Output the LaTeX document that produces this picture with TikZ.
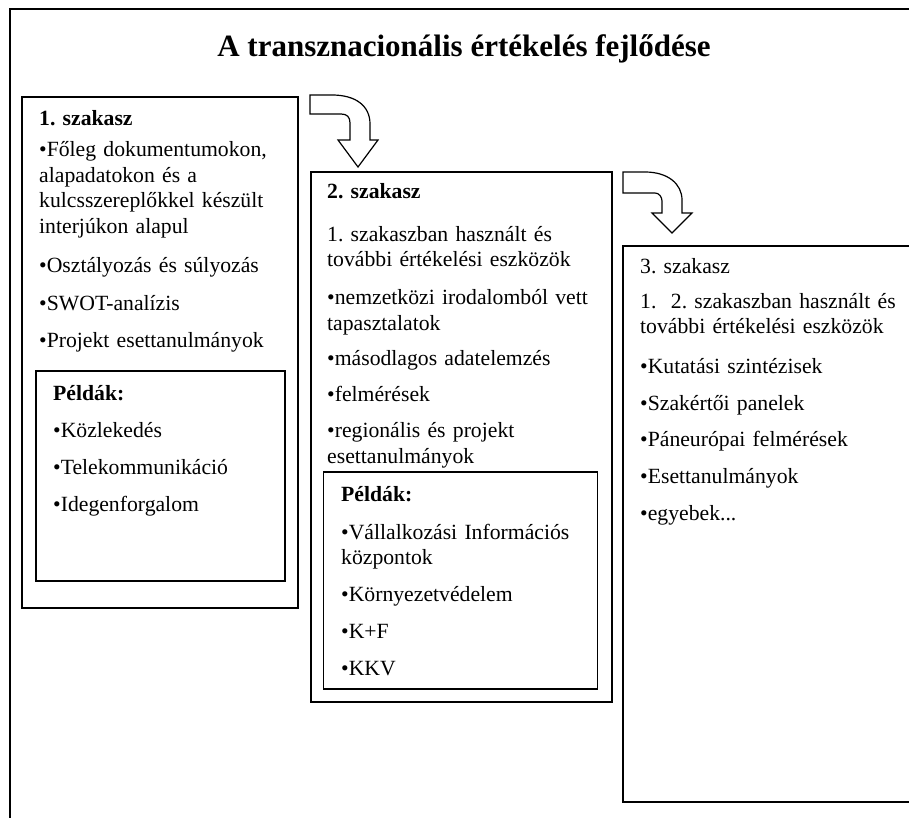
\documentclass[tikz,border=0pt]{standalone}
\usepackage{fontspec}
\setmainfont{Liberation Serif}
\frenchspacing
\newcommand{\bodyfont}{\fontsize{21.7}{25.5}\selectfont\frenchspacing}
\newcommand{\titlefont}{\fontsize{31}{36}\selectfont\bfseries}
\begin{document}
\begin{tikzpicture}[x=1pt,y=-1pt,
  frame/.style={draw=black,line width=1.6pt},
  box/.style={draw=black,line width=1.6pt,anchor=north west,inner sep=0pt,outer sep=0pt},
  txt/.style={anchor=base west,inner sep=0pt,align=left,font=\bodyfont},
  bendarrow/.style={draw=black,line width=1.2pt,fill=white,line join=miter}]
\clip (0,0) rectangle (909,818);
\fill[white] (0,0) rectangle (909,818);
% outer frame (open on right and bottom)
\draw[frame] (10,830) -- (10,9) -- (920,9);
% title
\node[anchor=base,inner sep=0pt,font=\titlefont] (title) at (464,57) {A transznacionális értékelés fejlődése};
% boxes
\node[box,minimum width=276,minimum height=511] (b1) at (22,97) {};
\node[box,minimum width=249,minimum height=210] (b1i) at (36,371) {};
\node[box,minimum width=301,minimum height=530] (b2) at (311,172) {};
\node[box,minimum width=274,minimum height=217] (b2i) at (323.5,472) {};
\node[box,minimum width=320,minimum height=556] (b3) at (623,246) {};
% curved block arrows
\draw[bendarrow] (310,95) -- (332,95) .. controls (356,95) and (370,106) .. (370,124)
  -- (370,140) -- (378,140) -- (358,167) -- (338,140) -- (350,140) -- (350,123)
  .. controls (350,117) and (347,114) .. (341,114) -- (310,114) -- cycle;
\draw[bendarrow] (623,172) -- (645,172) .. controls (668,172) and (682,184) .. (682,200)
  -- (682,213) -- (692,213) -- (672,233) -- (652,213) -- (662,213) -- (662,201)
  .. controls (662,197) and (659,193) .. (655,193) -- (623,193) -- cycle;
% box 1 text
\node[txt,text width=250] (t1) at (39,126) {\textbf{1. szakasz}\\[5.5pt]
  •Főleg dokumentumokon,\\ alapadatokon és a\\ kulcsszereplőkkel készült\\ interjúkon alapul\\[14pt]
  •Osztályozás és súlyozás\\[12pt] •SWOT-analízis\\[12pt] •Projekt esettanulmányok};
\node[txt,text width=225] (t1i) at (53,400) {\textbf{Példák:}\\[11.5pt]
  •Közlekedés\\[11.5pt] •Telekommunikáció\\[11.5pt] •Idegenforgalom};
% box 2 text
\node[txt,text width=275] (t2) at (327,199) {\textbf{2. szakasz}\\[17pt]
  1. szakaszban használt és\\ további értékelési eszközök\\[12pt]
  •nemzetközi irodalomból vett\\ tapasztalatok\\[10pt]
  •másodlagos adatelemzés\\[10.5pt] •felmérések\\[10.5pt]
  •regionális és projekt\\ esettanulmányok};
\node[txt,text width=250] (t2i) at (341,501.7) {\textbf{Példák:}\\[12pt]
  •Vállalkozási Információs\\ központok\\[11.5pt] •Környezetvédelem\\[11.5pt]
  •K+F\\[11.5pt] •KKV};
% box 3 text
\node[txt,text width=260] (t3) at (640,273.3) {3. szakasz\\[9.5pt]
  1.\ \ 2. szakaszban használt és\\ további értékelési eszközök\\[14pt]
  •Kutatási szintézisek\\[11.2pt] •Szakértői panelek\\[11.2pt]
  •Páneurópai felmérések\\[11.2pt] •Esettanulmányok\\[11.2pt] •egyebek...};
\end{tikzpicture}
\end{document}
